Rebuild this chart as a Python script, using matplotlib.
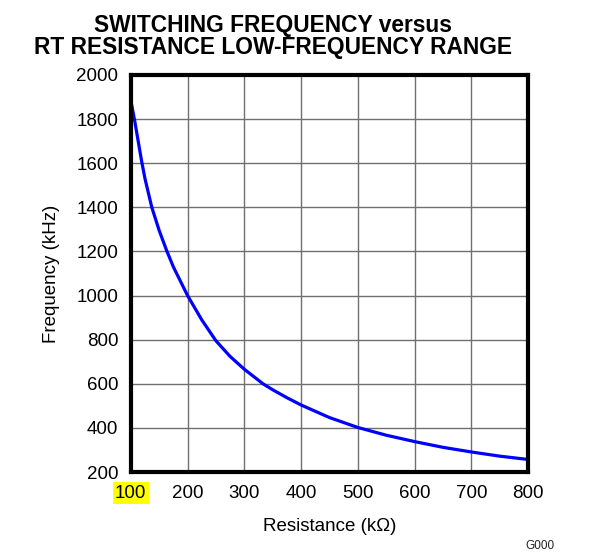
import matplotlib
matplotlib.use("Agg")
import matplotlib.pyplot as plt

plt.rcParams["font.family"] = ["Liberation Sans", "DejaVu Sans"]

# curve (kOhm -> kHz)
RESISTANCE = [100, 107, 113, 119, 125, 137, 150, 163, 175, 200, 225, 250, 275,
              300, 333, 350, 375, 400, 450, 500, 550, 600, 650, 700, 750, 800]
FREQUENCY = [1885, 1790, 1700, 1610, 1530, 1400, 1295, 1205, 1130, 1000, 890, 795, 724,
             666, 600, 573, 537, 504, 447, 402, 367, 338, 312, 291, 272, 257]

X_TICKS = [100, 200, 300, 400, 500, 600, 700, 800]
Y_TICKS = [200, 400, 600, 800, 1000, 1200, 1400, 1600, 1800, 2000]

fig = plt.figure(figsize=(6, 5.55), dpi=100)
ax = fig.add_axes([0.218, 0.1495, 0.662, 0.7155])

ax.plot(RESISTANCE, FREQUENCY, color="#0000FF", lw=2.3, zorder=3)

ax.set_xlim(100, 800)
ax.set_ylim(200, 2000)
ax.set_xticks(X_TICKS)
ax.set_yticks(Y_TICKS)
ax.grid(True, color="#707070", lw=1.0)
ax.tick_params(length=0, labelsize=13.5, pad=9)

for sp in ax.spines.values():
    sp.set_linewidth(3)
    sp.set_color("black")
    sp.set_zorder(4)

# yellow highlight on the first x tick label
fig.canvas.draw()
first = ax.get_xticklabels()[0]
first.set_bbox(dict(facecolor="#FFFF00", edgecolor="none", pad=1.5))

ax.set_xlabel("Resistance (k\u03a9)", fontsize=13.5, labelpad=12)
ax.set_ylabel("Frequency (kHz)", fontsize=13.5, labelpad=12)

fig.text(0.455, 0.935, "SWITCHING FREQUENCY versus\nRT RESISTANCE LOW-FREQUENCY RANGE",
         ha="center", va="center", fontsize=16.4, fontweight="bold", linespacing=0.95)
fig.text(0.9, 0.006, "G000", ha="center", va="bottom", fontsize=8.5, color="#222222")

fig.savefig("out.png", dpi=100)
